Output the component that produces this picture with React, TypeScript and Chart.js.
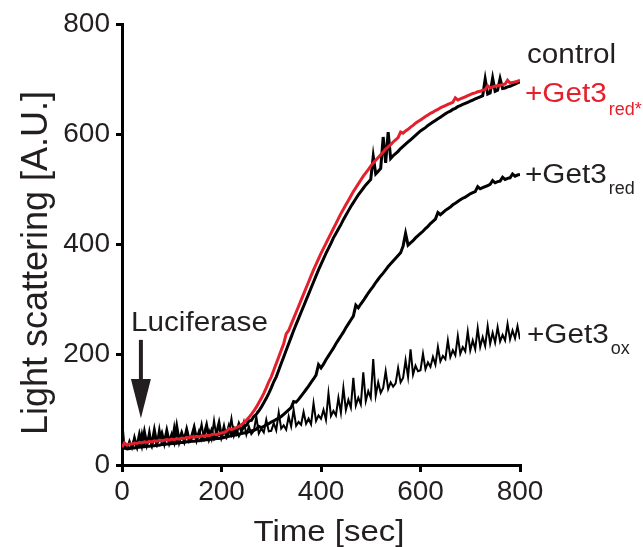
import React, { useEffect, useRef } from "react";
import { Chart, registerables } from "chart.js";

Chart.register(...registerables);

// Time axis (sec), sampled every 5 s
const TIME = [
  0, 5, 10, 15, 20, 25, 30, 35, 40, 45,
  50, 55, 60, 65, 70, 75, 80, 85, 90, 95,
  100, 105, 110, 115, 120, 125, 130, 135, 140, 145,
  150, 155, 160, 165, 170, 175, 180, 185, 190, 195,
  200, 205, 210, 215, 220, 225, 230, 235, 240, 245,
  250, 255, 260, 265, 270, 275, 280, 285, 290, 295,
  300, 305, 310, 315, 320, 325, 330, 335, 340, 345,
  350, 355, 360, 365, 370, 375, 380, 385, 390, 395,
  400, 405, 410, 415, 420, 425, 430, 435, 440, 445,
  450, 455, 460, 465, 470, 475, 480, 485, 490, 495,
  500, 505, 510, 515, 520, 525, 530, 535, 540, 545,
  550, 555, 560, 565, 570, 575, 580, 585, 590, 595,
  600, 605, 610, 615, 620, 625, 630, 635, 640, 645,
  650, 655, 660, 665, 670, 675, 680, 685, 690, 695,
  700, 705, 710, 715, 720, 725, 730, 735, 740, 745,
  750, 755, 760, 765, 770, 775, 780, 785, 790, 795,
  800,
];

const CONTROL = [
  38, 38, 34, 30, 32, 45, 33, 55, 36, 60,
  37, 52, 38, 63, 39, 48, 58, 40, 62, 41,
  55, 42, 70, 43, 58, 44, 64, 45, 52, 68,
  46, 60, 47, 55, 72, 48, 62, 49, 58, 76,
  51, 64, 53, 70, 56, 66, 58, 74, 62, 70,
  72, 80, 81, 88, 92, 98, 105, 113, 121, 130,
  140, 151, 160, 172, 184, 196, 208, 220, 232, 244,
  255, 266, 277, 288, 299, 310, 321, 332, 343, 354,
  364, 374, 384, 393, 402, 412, 420, 428, 436, 445,
  453, 461, 469, 476, 483, 490, 496, 502, 508, 513,
  518, 560, 528, 533, 538, 595, 548, 604, 556, 561,
  565, 569, 574, 578, 582, 586, 590, 594, 598, 602,
  606, 609, 612, 616, 619, 622, 625, 628, 631, 634,
  637, 640, 642, 645, 647, 650, 652, 654, 656, 658,
  660, 662, 664, 666, 668, 670, 700, 673, 675, 702,
  678, 680, 701, 683, 684, 686, 687, 689, 691, 693,
  695,
];

const GET3_RED_STAR = [
  32, 40, 36, 38, 38, 40, 39, 41, 40, 42,
  41, 43, 42, 44, 43, 45, 44, 45, 46, 45,
  47, 46, 48, 47, 49, 48, 50, 49, 51, 50,
  52, 51, 53, 52, 54, 53, 55, 56, 55, 57,
  58, 59, 61, 66, 64, 66, 68, 70, 73, 77,
  81, 86, 92, 98, 105, 113, 121, 130, 140, 151,
  160, 172, 184, 196, 208, 220, 238, 244, 255, 266,
  277, 288, 299, 310, 321, 332, 343, 354, 364, 374,
  384, 393, 402, 411, 420, 429, 438, 447, 456, 464,
  472, 480, 488, 496, 503, 510, 517, 524, 530, 536,
  542, 548, 553, 558, 563, 568, 573, 577, 581, 586,
  590, 594, 604, 602, 606, 609, 613, 616, 620, 623,
  626, 629, 632, 635, 638, 640, 643, 645, 648, 650,
  652, 654, 656, 658, 666, 662, 664, 666, 668, 670,
  672, 674, 675, 677, 678, 680, 681, 688, 684, 686,
  687, 688, 689, 690, 691, 698, 693, 694, 695, 696,
  698,
];

const GET3_RED = [
  30, 31, 29, 30, 31, 31, 32, 32, 33, 33,
  34, 34, 35, 35, 36, 36, 37, 37, 38, 38,
  39, 39, 40, 40, 41, 41, 42, 42, 43, 43,
  44, 44, 45, 45, 46, 46, 47, 47, 48, 48,
  49, 50, 51, 52, 53, 54, 55, 56, 57, 58,
  59, 60, 62, 63, 65, 70, 68, 70, 73, 75,
  78, 80, 83, 85, 88, 92, 96, 100, 104, 115,
  114, 119, 125, 131, 137, 143, 150, 156, 163, 182,
  176, 183, 191, 198, 205, 212, 220, 227, 234, 241,
  249, 256, 263, 270, 290, 285, 292, 298, 305, 312,
  318, 324, 331, 337, 343, 348, 354, 360, 365, 370,
  375, 380, 385, 397, 420, 399, 403, 407, 412, 416,
  420, 424, 429, 433, 438, 442, 446, 458, 454, 458,
  462, 465, 468, 472, 475, 478, 481, 484, 486, 489,
  492, 494, 496, 505, 501, 503, 505, 507, 509, 516,
  512, 514, 515, 522, 518, 520, 521, 528, 524, 526,
  527,
];

const GET3_OX = [
  84, 32, 30, 44, 31, 52, 35, 33, 58, 34,
  36, 62, 35, 48, 37, 66, 38, 40, 55, 39,
  41, 70, 40, 45, 58, 42, 64, 43, 47, 68,
  45, 52, 74, 46, 49, 62, 47, 80, 50, 56,
  52, 72, 50, 58, 84, 53, 66, 52, 60, 78,
  55, 70, 56, 62, 88, 57, 66, 59, 82, 61,
  62, 76, 63, 95, 66, 72, 64, 88, 70, 100,
  71, 78, 73, 96, 75, 84, 74, 112, 80, 90,
  84, 100, 82, 130, 89, 98, 90, 122, 95, 140,
  100, 118, 104, 158, 108, 122, 110, 168, 116, 134,
  122, 192, 126, 150, 131, 140, 170, 138, 150, 142,
  148, 176, 150, 158, 190, 160, 210, 164, 180, 170,
  172, 202, 174, 186, 178, 196, 182, 214, 188, 198,
  192, 226, 196, 208, 199, 234, 202, 214, 206, 242,
  208, 226, 210, 248, 214, 232, 216, 252, 220, 240,
  222, 250, 224, 236, 226, 256, 228, 244, 230, 252,
  228,
];

const X_MIN = 0;
const X_MAX = 800;
const Y_MIN = 0;
const Y_MAX = 800;
const TICK_STEP = 200;

const FAMILY = '"Liberation Sans", Arial, Helvetica, sans-serif';
const TEXT = "#231f20";
const RED = "#e4202c";
const BLACK = "#000000";

const toPoints = (vals: number[]) => TIME.map((t, i) => ({ x: t, y: vals[i] }));

const annotations = {
  id: "annotations",
  afterDraw(chart: any) {
    const { ctx, scales } = chart;
    const xs = scales.x;
    const ys = scales.y;
    const font = (s: number) => `${s}px ${FAMILY}`;
    const draw = (
      text: string,
      x: number,
      y: number,
      size: number,
      color: string,
      align: CanvasTextAlign = "left",
      sx = 1.1
    ) => {
      ctx.save();
      ctx.font = font(size);
      ctx.fillStyle = color;
      ctx.textAlign = align;
      ctx.textBaseline = "alphabetic";
      ctx.translate(x, y);
      ctx.scale(sx, 1);
      ctx.fillText(text, 0, 0);
      const w = ctx.measureText(text).width * sx;
      ctx.restore();
      return w;
    };
    const lx = xs.getPixelForValue(X_MAX) + 5;
    draw("control", lx + 2, 63, 27, TEXT);
    let w = draw("+Get3", lx, 102, 27, RED);
    draw("red*", lx + w + 2, 115, 18, RED, "left", 1.0);
    w = draw("+Get3", lx, 183, 27, TEXT);
    draw("red", lx + w + 2, 194, 18, TEXT, "left", 1.0);
    w = draw("+Get3", lx + 2, 343, 27, TEXT);
    draw("ox", lx + 2 + w + 2, 354, 18, TEXT, "left", 1.0);

    draw("Luciferase", xs.getPixelForValue(18), 331, 27, TEXT);

    // arrow pointing at time of luciferase addition
    const ax = xs.getPixelForValue(38);
    const yTop = ys.getPixelForValue(227);
    const yHead = ys.getPixelForValue(156);
    const yTip = ys.getPixelForValue(85);
    ctx.save();
    ctx.strokeStyle = TEXT;
    ctx.fillStyle = TEXT;
    ctx.lineWidth = 4;
    ctx.beginPath();
    ctx.moveTo(ax, yTop);
    ctx.lineTo(ax, yHead + 2);
    ctx.stroke();
    ctx.beginPath();
    ctx.moveTo(ax - 10, yHead);
    ctx.lineTo(ax + 10, yHead);
    ctx.lineTo(ax, yTip);
    ctx.closePath();
    ctx.fill();
    ctx.restore();

    // axis titles
    draw("Time [sec]", (xs.left + xs.right) / 2 + 8, 541, 30, TEXT, "center");
    ctx.save();
    ctx.translate(47, 263);
    ctx.rotate(-Math.PI / 2);
    ctx.font = font(36);
    ctx.fillStyle = TEXT;
    ctx.textAlign = "center";
    ctx.textBaseline = "alphabetic";
    ctx.fillText("Light scattering [A.U.]", 0, 0);
    ctx.restore();
  },
};

export default function App() {
  const ref = useRef<HTMLCanvasElement | null>(null);

  useEffect(() => {
    if (!ref.current) return;
    const common = { pointRadius: 0, borderWidth: 3, tension: 0, fill: false };
    const chart = new Chart(ref.current, {
      type: "line",
      data: {
        datasets: [
          { label: "+Get3red*", data: toPoints(GET3_RED_STAR), borderColor: RED, ...common },
          { label: "control", data: toPoints(CONTROL), borderColor: BLACK, ...common },
          { label: "+Get3red", data: toPoints(GET3_RED), borderColor: BLACK, ...common },
          { label: "+Get3ox", data: toPoints(GET3_OX), borderColor: BLACK, ...common, borderWidth: 2 },
        ],
      },
      options: {
        responsive: false,
        animation: false,
        events: [],
        layout: { padding: { left: 0, right: 123, top: 24, bottom: 0 } },
        plugins: {
          legend: { display: false },
          tooltip: { enabled: false },
          title: { display: false },
        },
        scales: {
          x: {
            type: "linear",
            min: X_MIN,
            max: X_MAX,
            afterFit: (s: any) => {
              s.height = 82;
            },
            ticks: {
              stepSize: TICK_STEP,
              font: { size: 28, family: FAMILY },
              color: TEXT,
              padding: 3,
              maxRotation: 0,
              autoSkip: false,
            },
            grid: { drawOnChartArea: false, drawTicks: true, tickLength: 7, lineWidth: 3, color: BLACK },
            border: { display: true, width: 3, color: BLACK },
          },
          y: {
            type: "linear",
            min: Y_MIN,
            max: Y_MAX,
            afterFit: (s: any) => {
              s.width = 122;
            },
            ticks: {
              stepSize: TICK_STEP,
              font: { size: 28, family: FAMILY },
              color: TEXT,
              padding: 6,
              autoSkip: false,
            },
            grid: { drawOnChartArea: false, drawTicks: true, tickLength: 6, lineWidth: 3, color: BLACK },
            border: { display: true, width: 3, color: BLACK },
          },
        },
      },
      plugins: [annotations],
    });
    return () => chart.destroy();
  }, []);

  return (
    <div style={{ position: "absolute", left: 0, top: 0, width: 643, height: 547, background: "#fff" }}>
      <canvas ref={ref} width={643} height={547} style={{ display: "block" }} />
    </div>
  );
}
